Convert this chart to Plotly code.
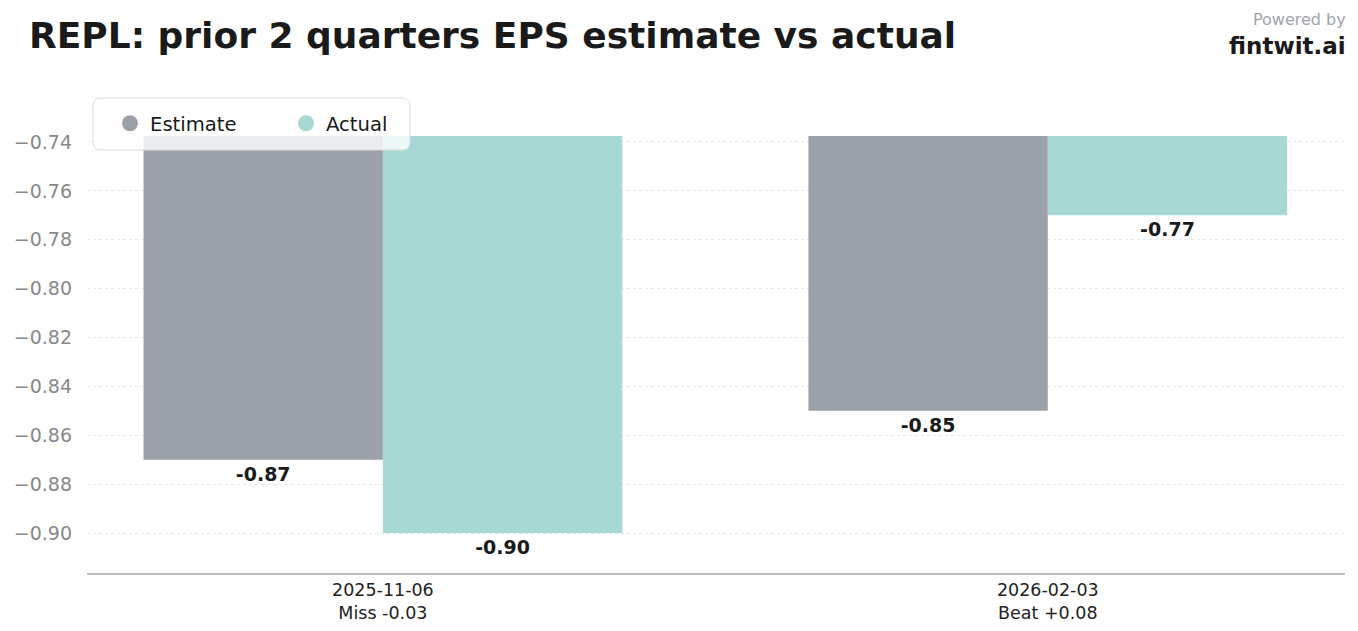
import plotly.graph_objects as go

# ---- data ----
dates = ["2025-11-06", "2026-02-03"]
results = ["Miss -0.03", "Beat +0.08"]
estimate = [-0.87, -0.85]
actual = [-0.90, -0.77]
yticks = [-0.90, -0.88, -0.86, -0.84, -0.82, -0.80, -0.78, -0.76, -0.74]

EST_COLOR = "#9ca0a8"
ACT_COLOR = "#a8d8d4"
FONT = "DejaVu Sans"

cats = [f"{d}<br>{r}" for d, r in zip(dates, results)]

fig = go.Figure()
for name, vals, col in [("Estimate", estimate, EST_COLOR), ("Actual", actual, ACT_COLOR)]:
    fig.add_trace(go.Bar(
        x=cats, y=vals, name=name, marker=dict(color=col, line=dict(width=0)),
        text=[f"{v:.2f}" for v in vals], textposition="outside", textangle=0,
        textfont=dict(family=FONT, size=19, color="#1a1a1a", weight="bold"),
        cliponaxis=False, showlegend=False,
    ))
    fig.add_trace(go.Scatter(
        x=[None], y=[None], mode="markers", name=name,
        marker=dict(color=col, size=16, symbol="circle"),
    ))

# rounded legend frame (paper coords of the plot area)
W, H = 1258.0, 437.0
x0, x1 = 6 / W, 323 / W
y0, y1 = (573 - 150) / H, (573 - 98) / H
rx, ry = 8 / W, 8 / H
path = (f"M {x0+rx},{y0} L {x1-rx},{y0} Q {x1},{y0} {x1},{y0+ry} "
        f"L {x1},{y1-ry} Q {x1},{y1} {x1-rx},{y1} L {x0+rx},{y1} "
        f"Q {x0},{y1} {x0},{y1-ry} L {x0},{y0+ry} Q {x0},{y0} {x0+rx},{y0} Z")
fig.add_shape(type="path", path=path, xref="paper", yref="paper",
              fillcolor="rgba(255,255,255,0.8)", line=dict(color="#dddddd", width=1),
              layer="above")

fig.update_layout(
    width=1358, height=631,
    margin=dict(l=87, r=13, t=136, b=58, autoexpand=False),
    paper_bgcolor="white", plot_bgcolor="white",
    barmode="group", bargap=0.28, bargroupgap=0,
    font=dict(family=FONT, color="#222222"),
    title=dict(text="<b>REPL: prior 2 quarters EPS estimate vs actual</b>",
               x=29 / 1358, xanchor="left", y=1 - 35 / 631, yanchor="middle",
               font=dict(family=FONT, size=36, color="#1a1a1a")),
    legend=dict(orientation="h", x=(110 - 87) / W, xanchor="left",
                y=(573 - 104) / H, yanchor="top",
                bgcolor="rgba(0,0,0,0)", borderwidth=0,
                font=dict(family=FONT, size=19.6, color="#1a1a1a"),
                entrywidth=131, entrywidthmode="pixels"),
    xaxis=dict(range=[-0.445, 1.447], showgrid=False, showline=True, automargin=False,
               linecolor="#bbbbbb", linewidth=1.5, ticks="",
               tickfont=dict(family=FONT, size=17.5, color="#222222"), fixedrange=True),
    yaxis=dict(range=[-0.91637, -0.73755], tickvals=yticks, automargin=False,
               ticktext=[f"\u2212{abs(v):.2f}" for v in yticks],
               showgrid=True, gridcolor="#e8e8e8", griddash="dot", gridwidth=1,
               zeroline=False, showline=False, ticks="", ticklabelstandoff=14,
               tickfont=dict(family=FONT, size=19, color="#888888")),
    annotations=[
        dict(text="Powered by", xref="paper", yref="paper", x=1, y=(573 - 20) / H,
             xanchor="right", yanchor="middle", showarrow=False, xshift=3,
             font=dict(family=FONT, size=16, color="#a0a4aa")),
        dict(text="<b>fintwit.ai</b>", xref="paper", yref="paper", x=1, y=(573 - 46) / H,
             xanchor="right", yanchor="middle", showarrow=False, xshift=3,
             font=dict(family=FONT, size=23, color="#1a1a1a")),
    ],
)

fig.write_html("out.html")
